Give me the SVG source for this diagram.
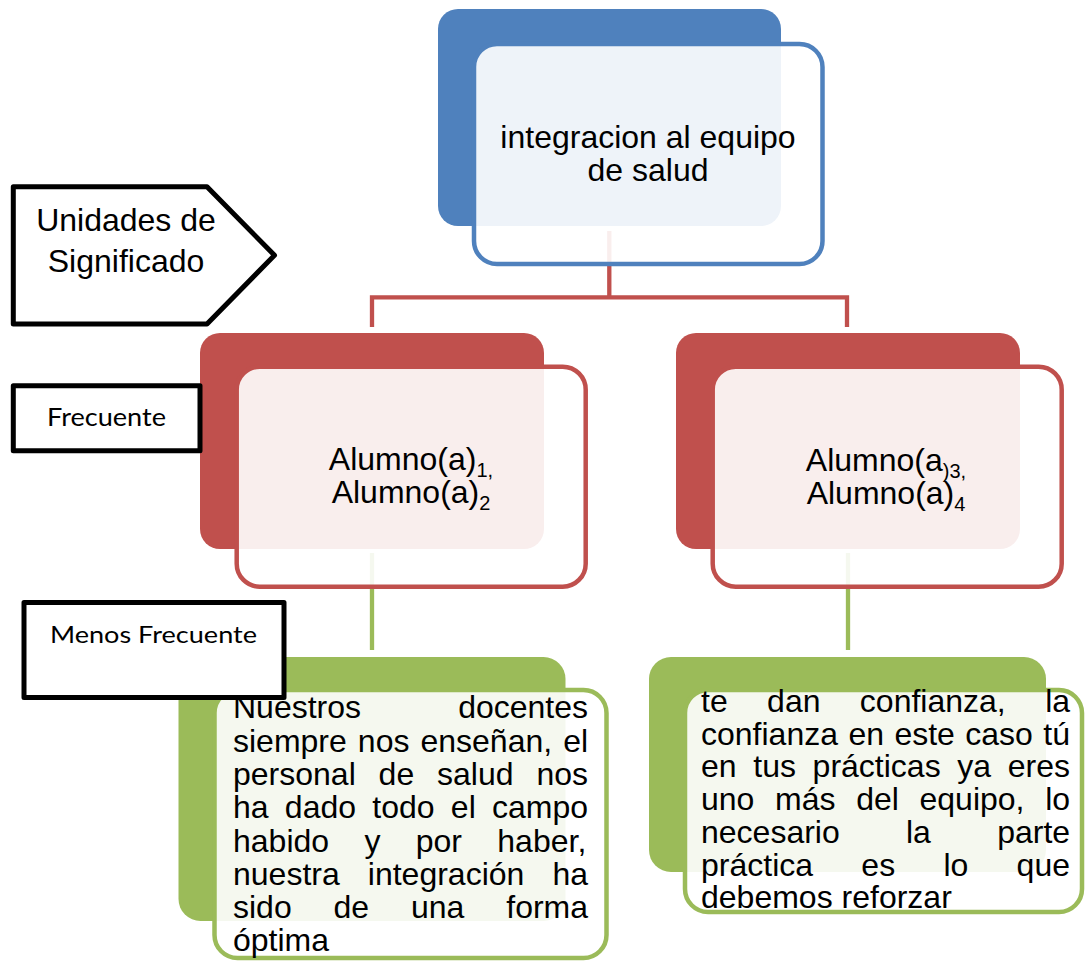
<svg xmlns="http://www.w3.org/2000/svg" width="1085" height="961" viewBox="0 0 1085 961">
<style>
.bg{fill:#fff}
.t{font-family:"Liberation Sans",Arial,sans-serif;font-size:32px;fill:#000}
.c{font-family:Lato,"Open Sans",sans-serif;fill:#000}
.blueB{fill:#4F81BD}
.blueF{fill:#fff;fill-opacity:.9;stroke:#4F81BD;stroke-width:4.5}
.redB{fill:#C0504D}
.redF{fill:#fff;fill-opacity:.9;stroke:#C0504D;stroke-width:4.5}
.grnB{fill:#9BBB59}
.grnF{fill:#fff;fill-opacity:.9;stroke:#9BBB59;stroke-width:4.5}
.lbl{fill:#fff;stroke:#000;stroke-width:5;stroke-linejoin:round}
.cr{fill:none;stroke:#C0504D;stroke-width:4.3}
.cg{fill:none;stroke:#9BBB59;stroke-width:4.3}
</style>
<rect class="bg" x="0" y="0" width="1085" height="961"/>
<g id="connectors">
<path class="cr" d="M609.3,231 V297.3 M372,327 V297.3 H847 V327"/>
<path class="cg" d="M372,553 V650 M848,553 V650"/>
</g>
<g id="node-top">
<rect class="blueB" x="438" y="9" width="343" height="217" rx="20"/>
<rect class="blueF" x="474" y="44" width="348.5" height="220" rx="23"/>
<text class="t" text-anchor="middle"><tspan x="648" y="147.5">integracion al equipo</tspan><tspan x="648" y="181">de salud</tspan></text>
</g>
<g id="node-alumno12">
<rect class="redB" x="200" y="333" width="344" height="216" rx="20"/>
<rect class="redF" x="236.7" y="366.7" width="349" height="220" rx="23"/>
<text class="t" x="411" y="470" text-anchor="middle">Alumno(a)<tspan dy="7" font-size="20">1,</tspan></text>
<text class="t" x="411" y="503" text-anchor="middle">Alumno(a)<tspan dy="7" font-size="20">2</tspan></text>
</g>
<g id="node-alumno34">
<rect class="redB" x="676" y="333" width="344" height="216" rx="20"/>
<rect class="redF" x="712.7" y="366.7" width="349" height="220" rx="23"/>
<text class="t" x="886" y="471" text-anchor="middle">Alumno(a<tspan dy="7" font-size="20">)3,</tspan></text>
<text class="t" x="886" y="504" text-anchor="middle">Alumno(a)<tspan dy="7" font-size="20">4</tspan></text>
</g>
<g id="node-green-left">
<rect class="grnB" x="178.5" y="657" width="387" height="264" rx="22"/>
<rect class="grnF" x="214.5" y="690" width="392" height="268" rx="23"/>
<text class="t" x="233">
<tspan x="233" y="718.3" word-spacing="88.2">Nuestros docentes</tspan>
<tspan x="233" y="751.6" word-spacing="2.13">siempre nos enseñan, el</tspan>
<tspan x="233" y="784.9" word-spacing="13.97">personal de salud nos</tspan>
<tspan x="233" y="818.2" word-spacing="7.37">ha dado todo el campo</tspan>
<tspan x="233" y="851.5" word-spacing="26.43">habido y por haber,</tspan>
<tspan x="233" y="884.8" word-spacing="19.2">nuestra integración ha</tspan>
<tspan x="233" y="918.1" word-spacing="32.97">sido de una forma</tspan>
<tspan x="233" y="951.4">óptima</tspan>
</text>
</g>
<g id="node-green-right">
<rect class="grnB" x="649" y="657" width="397" height="215" rx="22"/>
<rect class="grnF" x="685" y="690" width="397" height="222" rx="23"/>
<text class="t">
<tspan x="701" y="712" word-spacing="30.5">te dan confianza, la</tspan>
<tspan x="701" y="744.7" word-spacing="1.53">confianza en este caso tú</tspan>
<tspan x="701" y="777.4" word-spacing="7.77">en tus prácticas ya eres</tspan>
<tspan x="701" y="810.1" word-spacing="11.76">uno más del equipo, lo</tspan>
<tspan x="701" y="842.8" word-spacing="57.35">necesario la parte</tspan>
<tspan x="701" y="875.5" word-spacing="39.4">práctica es lo que</tspan>
<tspan x="701" y="908.2">debemos reforzar</tspan>
</text>
</g>
<g id="label-unidades">
<polygon class="lbl" points="13.3,186.7 207,186.7 274.5,255.3 207,324 13.3,324"/>
<text class="t" text-anchor="middle"><tspan x="126" y="231">Unidades de</tspan><tspan x="126" y="272">Significado</tspan></text>
</g>
<g id="label-frecuente">
<rect class="lbl" x="13.3" y="385.8" width="186.7" height="65"/>
<text class="c" x="47" y="426" font-size="25" textLength="119" lengthAdjust="spacingAndGlyphs">Frecuente</text>
</g>
<g id="label-menos">
<rect class="lbl" x="24" y="602.5" width="260" height="95"/>
<text class="c" x="50" y="643" font-size="24" textLength="207" lengthAdjust="spacingAndGlyphs">Menos Frecuente</text>
</g>
</svg>
